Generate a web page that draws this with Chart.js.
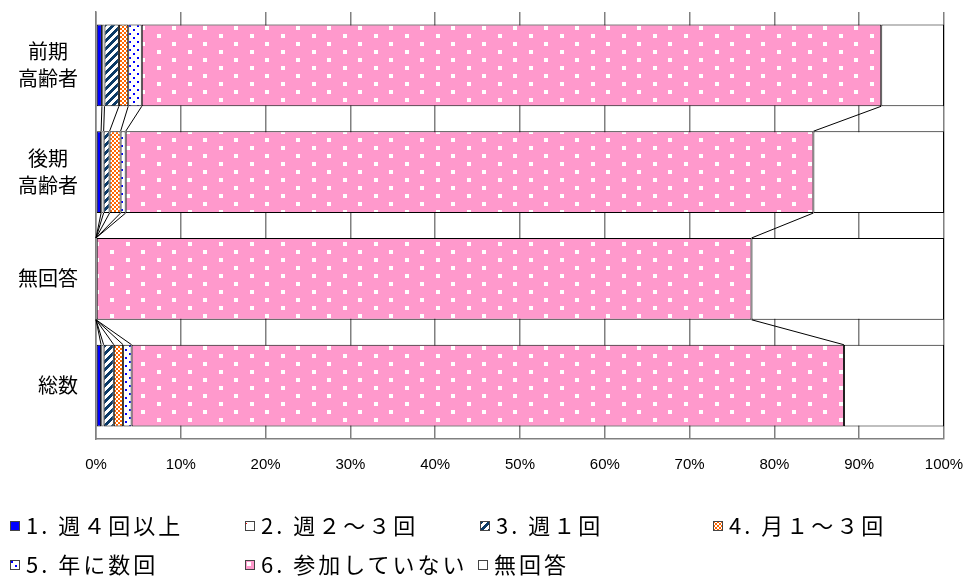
<!DOCTYPE html>
<html><head><meta charset="utf-8">
<script src="https://cdn.jsdelivr.net/npm/chart.js@4/dist/chart.umd.min.js"></script>
<style>
body{margin:0;background:#fff;width:968px;height:576px;overflow:hidden;position:relative;font-family:"Noto Sans CJK JP",sans-serif;}
#c{position:absolute;left:0;top:0;}
.lg{position:absolute;font-size:22px;letter-spacing:3px;white-space:nowrap;line-height:24px;height:24px;color:#000;}
.lg canvas{display:inline-block;vertical-align:middle;margin-right:6px;position:relative;top:-2px;}
</style></head><body>
<canvas id="c" width="968" height="576"></canvas>
<div id="legend"></div>
<script>
const categories=[['前期','高齢者'],['後期','高齢者'],'無回答','総数'];
const seriesNames=['1. 週４回以上','2. 週２～３回','3. 週１回','4. 月１～３回','5. 年に数回','6. 参加していない','無回答'];
const s1=[0.7,0.6,0,0.6];
const s2=[0.3,0.3,0,0.3];
const s3=[1.7,0.7,0,1.2];
const s4=[1.1,1.3,0,1.1];
const s5=[1.6,0.6,0,1.0];
const s6=[87.2,81.1,77.3,84.0];
const s7=[7.4,15.4,22.7,11.8];
const seriesValues=[s1,s2,s3,s4,s5,s6,s7];
const xTickStep=10;

function mk(w,h,draw){const c=document.createElement('canvas');c.width=w;c.height=h;const g=c.getContext('2d');draw(g);return c;}
function pat(w,h,draw){return document.createElement('canvas').getContext('2d').createPattern(mk(w,h,draw),'repeat');}
const fills=[
 '#0000ff',
 pat(16,8,g=>{g.fillStyle='#fff';g.fillRect(0,0,16,8);g.fillStyle='#ff0000';g.fillRect(1,2,1,1);}),
 pat(8,8,g=>{g.fillStyle='#fff';g.fillRect(0,0,8,8);g.fillStyle='#0b3a66';
   for(let y=0;y<8;y++){for(let k=-1;k<2;k++){const x0=((8-y)+k*8);g.fillRect(x0,y,4,1);}}}),
 pat(4,4,g=>{g.fillStyle='#fff';g.fillRect(0,0,4,4);g.fillStyle='#ff6600';g.fillRect(0,0,2,2);g.fillRect(2,2,2,2);}),
 pat(8,8,g=>{g.fillStyle='#fff';g.fillRect(0,0,8,8);g.fillStyle='#0000ff';g.fillRect(1,1,2,2);g.fillRect(5,5,2,2);}),
 pat(31,16,g=>{g.fillStyle='#ff99cc';g.fillRect(0,0,31,16);g.fillStyle='#fff';g.fillRect(2,2,4,4);g.fillRect(17,10,4,4);}),
 '#ffffff'
];
const borders=['#000','#555','#000','#000','#000','#000','#000'];

const seriesLines={id:'sl',afterDatasetsDraw(chart){
 const ctx=chart.ctx;ctx.save();ctx.strokeStyle='#000';ctx.lineWidth=1;
 const n=chart.data.datasets.length;
 for(let d=0;d<n-1;d++){const meta=chart.getDatasetMeta(d);
  for(let i=0;i<meta.data.length-1;i++){const a=meta.data[i],b=meta.data[i+1];
   ctx.beginPath();ctx.moveTo(a.x,a.y+a.height/2);ctx.lineTo(b.x,b.y-b.height/2);ctx.stroke();}}
 ctx.restore();}};

// category labels: block right-aligned near the axis, lines centred inside the block
const catLabels={id:'cl',afterDraw(chart){
 const ys=chart.scales.y, ctx=chart.ctx;
 ctx.save();ctx.font='20px "Noto Sans CJK JP"';ctx.fillStyle='#000';ctx.textAlign='center';ctx.textBaseline='middle';
 const right=ys.right-18, lh=27;
 chart.data.labels.forEach((lab,i)=>{
  const lines=Array.isArray(lab)?lab:[lab];
  const w=Math.max(...lines.map(t=>ctx.measureText(t).width));
  const cx=right-w/2, cy=ys.getPixelForTick(i);
  lines.forEach((t,k)=>ctx.fillText(t,cx,cy+(k-(lines.length-1)/2)*lh));
 });
 ctx.restore();}};

new Chart(document.getElementById('c'),{
 type:'bar',
 data:{labels:categories,datasets:seriesValues.map((v,i)=>({label:seriesNames[i],data:v,backgroundColor:fills[i],borderColor:borders[i],borderWidth:1,borderSkipped:false,barPercentage:1,categoryPercentage:0.766}))},
 options:{indexAxis:'y',responsive:false,animation:false,devicePixelRatio:1,
  layout:{padding:{top:12,right:24,left:0,bottom:0}},
  plugins:{legend:{display:false},tooltip:{enabled:false}},
  scales:{
   x:{stacked:true,min:0,max:100,
     ticks:{stepSize:xTickStep,callback:v=>v+'%',color:'#000',padding:17,maxRotation:0,font:{family:'"Liberation Sans",sans-serif',size:15}},
     grid:{color:'#808080',lineWidth:1.5,drawTicks:false},
     border:{display:true,color:'#808080',width:1.5},
     afterFit:s=>{s.height=137;s.paddingLeft=0;s.paddingRight=0;}},
   y:{stacked:true,
     ticks:{display:false},
     grid:{display:false,drawTicks:false},
     border:{display:true,color:'#808080',width:1.5},
     afterFit:s=>{s.width=96;s.paddingTop=0;s.paddingBottom=0;}}
  }},
 plugins:[seriesLines,catLabels]
});

const legendPos=[[10,525],[245,525],[480,525],[713,525],[10,564],[245,564],[478,564]];
const lg=document.getElementById('legend');
seriesNames.forEach((name,i)=>{
 const d=document.createElement('div');d.className='lg';
 d.style.left=legendPos[i][0]+'px';d.style.top=(legendPos[i][1]-13)+'px';
 const c=document.createElement('canvas');c.width=10;c.height=10;
 const g=c.getContext('2d');g.fillStyle=fills[i];g.fillRect(0,0,10,10);g.strokeStyle='#444';g.lineWidth=1;g.strokeRect(0.5,0.5,9,9);
 d.appendChild(c);d.appendChild(document.createTextNode(name));lg.appendChild(d);
});
</script>
</body></html>
